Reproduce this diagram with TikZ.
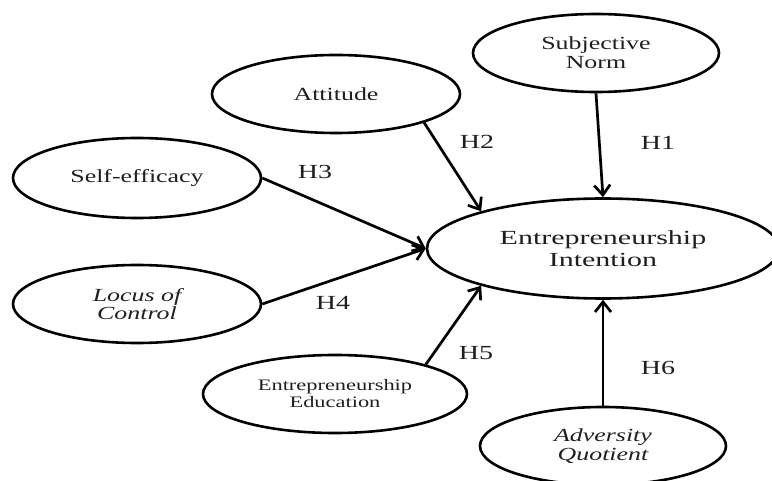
\documentclass[tikz,border=0pt]{standalone}
\usepackage{fontspec}
\setmainfont{Liberation Serif}[FakeStretch=1.4]
\newfontfamily\widefont{Liberation Serif}[FakeStretch=1.5]
\usetikzlibrary{shapes.geometric,arrows.meta}
\tikzset{
  latent/.style={ellipse, draw=black, line width=2.6pt, inner sep=0pt,
    align=center, text=black!88, font=\fontsize{18.5}{19}\selectfont},
  hyp/.style={line width=2.7pt, draw=black, -{Straight Barb[length=10pt,width=16pt]}},
  hlabel/.style={text=black!88, font=\fontsize{20}{22}\selectfont, inner sep=0pt}
}
\begin{document}
\begin{tikzpicture}[x=1pt,y=-1pt]
\useasboundingbox (0,0) rectangle (772,481);
\node[latent, minimum width=246pt, minimum height=78pt] (sn) at (596,53) {Subjective\\Norm};
\node[latent, minimum width=248pt, minimum height=78pt] (att) at (336,94) {Attitude};
\node[latent, minimum width=248pt, minimum height=80pt] (se) at (137,178) {Self-efficacy};
\node[latent, minimum width=248pt, minimum height=78pt, font=\fontsize{18.5}{18.5}\selectfont\itshape] (loc) at (137,304) {Locus of\\Control};
\node[latent, minimum width=264pt, minimum height=78pt, font=\fontsize{16}{17}\selectfont] (ee) at (335,394) {Entrepreneurship\\Education};
\node[latent, minimum width=246pt, minimum height=78pt, font=\fontsize{18.5}{19}\selectfont\itshape] (aq) at (603,446) {Adversity\\Quotient};
\node[latent, minimum width=352pt, minimum height=100pt, font=\widefont\fontsize{20}{21.5}\selectfont] (ei) at (603,248.5) {Entrepreneurship\\Intention};

\draw[hyp] (sn.south) -- (ei.north);
\draw[hyp] (att.-18) -- (ei.163);
\draw[hyp] (se.east) -- (ei.west);
\draw[hyp] (loc.east) -- (ei.west);
\draw[hyp] (ee.18) -- (ei.197);
\draw[hyp] (aq.north) -- (ei.south);

\node[hlabel] (h1) at (658,143) {H1};
\node[hlabel] (h2) at (477,142) {H2};
\node[hlabel] (h3) at (315,172) {H3};
\node[hlabel] (h4) at (333,303) {H4};
\node[hlabel] (h5) at (476,353) {H5};
\node[hlabel] (h6) at (658,368) {H6};
\end{tikzpicture}
\end{document}
